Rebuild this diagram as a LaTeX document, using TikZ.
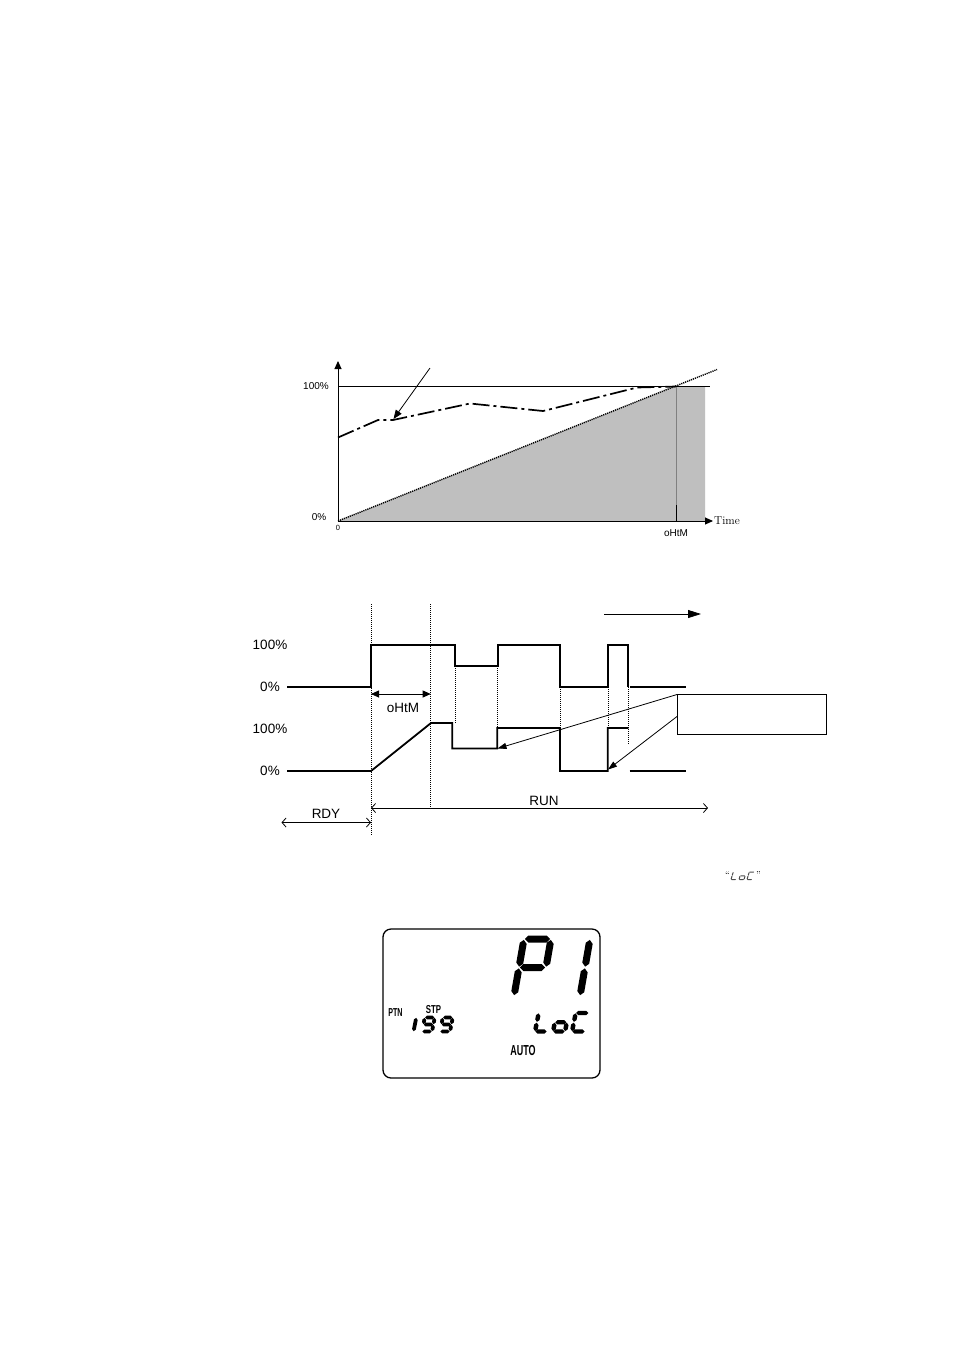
\documentclass[tikz,border=0pt]{standalone}
\usepackage{fontspec}
\setmainfont{Liberation Sans}
\newfontfamily\lmserif{Latin Modern Roman}
\usetikzlibrary{arrows.meta}
\def\sgap{1}
\newcommand\SgSeg[5]{%
  \pgfmathsetmacro\sA{atan2((#4)-(#2),(#3)-(#1))}%
  \pgfmathsetmacro\sL{veclen((#3)-(#1),(#4)-(#2))}%
  \pgfmathsetmacro\sB{\sgap}%
  \pgfmathsetmacro\sC{\sgap+#5}%
  \pgfmathsetmacro\sD{\sL-\sgap-#5}%
  \pgfmathsetmacro\sE{\sL-\sgap}%
  \fill[shift={(#1,#2)},rotate=-\sA] (\sB,0) -- (\sC,#5) -- (\sD,#5) -- (\sE,0) -- (\sD,-#5) -- (\sC,-#5) -- cycle;}
% digit set: x0 y0 W H slant halfthick
\newcommand\SgSet[6]{%
  \pgfmathsetmacro\dBLx{#1}\pgfmathsetmacro\dBLy{#2}%
  \pgfmathsetmacro\dBRx{#1+#3}%
  \pgfmathsetmacro\dMLx{#1+#5*#4/2}\pgfmathsetmacro\dMy{#2-#4/2}%
  \pgfmathsetmacro\dMRx{#1+#3+#5*#4/2}%
  \pgfmathsetmacro\dTLx{#1+#5*#4}\pgfmathsetmacro\dTy{#2-#4}%
  \pgfmathsetmacro\dTRx{#1+#3+#5*#4}%
  \def\dT{#6}}
\newcommand\SgA{\SgSeg{\dTLx}{\dTy}{\dTRx}{\dTy}{\dT}}
\newcommand\SgB{\SgSeg{\dTRx}{\dTy}{\dMRx}{\dMy}{\dT}}
\newcommand\SgC{\SgSeg{\dMRx}{\dMy}{\dBRx}{\dBLy}{\dT}}
\newcommand\SgD{\SgSeg{\dBLx}{\dBLy}{\dBRx}{\dBLy}{\dT}}
\newcommand\SgE{\SgSeg{\dMLx}{\dMy}{\dBLx}{\dBLy}{\dT}}
\newcommand\SgF{\SgSeg{\dTLx}{\dTy}{\dMLx}{\dMy}{\dT}}
\newcommand\SgG{\SgSeg{\dMLx}{\dMy}{\dMRx}{\dMy}{\dT}}
\newcommand\SgBC{\SgSeg{\dTRx}{\dTy}{\dBRx}{\dBLy}{\dT}}
\tikzset{
  sig/.style={line width=1.8pt},
  dotv/.style={line width=0.8pt,dash pattern=on 1pt off 1pt},
  thinl/.style={line width=0.8pt},
  lab/.style={inner sep=0pt,font=\fontsize{13.5}{14}\selectfont},
  smlab/.style={inner sep=0pt,font=\fontsize{10}{10}\selectfont},
  lcdlab/.style={inner sep=0pt,font=\fontsize{11.5}{12}\selectfont},
  bigtip/.style={-{Triangle[length=8pt,width=7pt]}},
}
\begin{document}
\begin{tikzpicture}[x=1pt,y=-1pt]
\useasboundingbox (0,0) rectangle (954,1350);
\fill[white] (0,0) rectangle (954,1350);

% ---------- top chart ----------
\fill[black!25] (338,521) -- (676,386) -- (705,386) -- (705,521) -- cycle;
\draw[black!50,line width=1pt] (676,386) -- (676,505);
\draw[line width=1pt] (676,505) -- (676,521);
\draw[line width=0.8pt] (338,386) -- (710,386);
\draw[line width=1.4pt,dash pattern=on 1.2pt off 0.9pt] (338,521) -- (717,369.5);
\draw[line width=1.7pt,dash pattern=on 17pt off 4pt on 3pt off 4pt]
  (338,437.5) -- (378,420) -- (393,420) -- (470,403.5) -- (543,411) -- (637,387.5) -- (676,386.5);
\coordinate (ptA) at (430,368);
\coordinate (ptB) at (393.5,419);
\draw[line width=0.8pt,-{Triangle[length=9pt,width=7pt]}] (ptA) -- (ptB);
\coordinate (org) at (338,521);
\coordinate (ytip) at (338,361);
\coordinate (xtip) at (713,521);
\draw[line width=0.9pt,bigtip] (org) -- (ytip);
\draw[line width=0.9pt,bigtip] (org) -- (xtip);
\node[smlab] (l100a) at (316,386) {100\%};
\node[smlab] (l0a) at (319,517) {0\%};
\node[inner sep=0pt,font=\fontsize{7.5}{8}\selectfont] (l0) at (338,528) {0};
\node[smlab] (lohtma) at (676,533) {oHtM};
\node[inner sep=0pt,anchor=west,font=\lmserif\fontsize{11.5}{12}\selectfont] (ltime) at (714,521) {Time};

% ---------- timing chart ----------
\draw[dotv] (371,604) -- (371,836);
\draw[dotv] (430.7,604) -- (430.7,808);
\draw[dotv] (455,666) -- (455,723);
\draw[dotv] (497.7,666) -- (497.7,728);
\draw[dotv] (560,687) -- (560,728);
\draw[dotv] (608,687) -- (608,728);
\draw[dotv] (628.5,687) -- (628.5,745);
% upper signal
\draw[sig] (287,687) -- (371,687) -- (371,645) -- (455,645) -- (455,665.7) -- (497.7,665.7) -- (497.7,645) -- (560,645) -- (560,687) -- (607.7,687) -- (607.7,645) -- (628.3,645) -- (628.3,687);
\draw[sig] (630,687) -- (686,687);
% lower signal
\draw[sig] (287,771) -- (371,771) -- (431,723) -- (452.3,723) -- (452.3,748.5) -- (497.3,748.5) -- (497.3,728) -- (560,728) -- (560,771) -- (607.7,771) -- (607.7,728) -- (628.3,728);
\draw[sig] (629.5,771) -- (686,771);
\node[lab] (l100u) at (270,645) {100\%};
\node[lab] (l0u) at (270,687) {0\%};
\node[lab] (l100l) at (270,729) {100\%};
\node[lab] (l0l) at (270,771) {0\%};
% oHtM arrow
\coordinate (oh1) at (371,694);
\coordinate (oh2) at (430.7,694);
\draw[thinl,{Triangle[length=8pt,width=7pt]}-{Triangle[length=8pt,width=7pt]}] (oh1) -- (oh2);
\node[lab] (lohtm) at (403,708) {oHtM};
% time arrow
\coordinate (ta1) at (604,614);
\coordinate (ta2) at (701,614);
\draw[thinl,-{Triangle[length=13pt,width=8pt]}] (ta1) -- (ta2);
% callout box
\node[draw,thinl,minimum width=149pt,minimum height=40pt,inner sep=0pt] (cbox) at (751.5,714) {};
\coordinate (cb1) at (677,694.5);
\coordinate (cb2) at (677,716.5);
\coordinate (tip1) at (497.5,748.5);
\coordinate (tip2) at (608,769.5);
\draw[thinl,-{Triangle[length=9pt,width=6pt]}] (cb1) -- (tip1);
\draw[thinl,-{Triangle[length=9pt,width=6pt]}] (cb2) -- (tip2);
% RDY / RUN
\coordinate (rd1) at (281.5,822.5);
\coordinate (rd2) at (371,822.5);
\draw[thinl,{Straight Barb[length=4pt,width=9pt]}-{Straight Barb[length=4pt,width=9pt]}] (rd1) -- (rd2);
\node[lab] (lrdy) at (326,814) {RDY};
\coordinate (ru1) at (371,808);
\coordinate (ru2) at (708,808);
\draw[thinl,{Straight Barb[length=4pt,width=9pt]}-{Straight Barb[length=4pt,width=9pt]}] (ru1) -- (ru2);
\node[lab] (lrun) at (544,800.5) {RUN};

% ---------- small "LoC" ----------
\node[inner sep=0pt,font=\lmserif\fontsize{10}{10}\selectfont] (q1) at (727.5,875.5) {“};
\node[inner sep=0pt,font=\lmserif\fontsize{10}{10}\selectfont] (q2) at (758.5,875.5) {”};
\begin{scope}[black!70]
\def\sgap{0.15}
\SgSet{731}{879.5}{5}{7.5}{0.3}{0.5}\SgD\SgE\SgF
\SgSet{739}{879.5}{5}{7.5}{0.3}{0.5}\SgC\SgD\SgE\SgG
\SgSet{747}{879.5}{5}{7.5}{0.3}{0.5}\SgA\SgD\SgE\SgF
\end{scope}

% ---------- LCD ----------
\node[draw,line width=1.3pt,rounded corners=8pt,minimum width=217pt,minimum height=149pt,inner sep=0pt] (lcd) at (491.5,1003.5) {};
\begin{scope}
\def\sgap{0.9}
\SgSet{514}{996}{27}{57}{0.175}{3.5}\SgA\SgB\SgE\SgF\SgG
\SgSet{553}{996}{27}{57}{0.175}{3.5}\SgB\SgC
\def\sgap{0.35}
\SgSet{403.5}{1031.5}{10}{14}{0.2}{1.9}\SgBC
\SgSet{422}{1031.5}{10}{14}{0.2}{1.9}\SgA\SgB\SgC\SgD\SgF\SgG
\SgSet{440}{1031.5}{10}{14}{0.2}{1.9}\SgA\SgB\SgC\SgD\SgF\SgG
\def\sgap{0.4}
\SgSet{535}{1031.5}{12}{18.5}{0.2}{2.2}\SgD\SgE\SgF
\SgSet{553}{1031.5}{12}{18.5}{0.2}{2.2}\SgC\SgD\SgE\SgG
\SgSet{572}{1031.5}{13}{18.5}{0.2}{2.2}\SgA\SgD\SgE\SgF
\end{scope}
\node[lcdlab] (lptn) at (395.5,1012.5) {\scalebox{0.62}[1]{\textbf{PTN}}};
\node[lcdlab] (lstp) at (433.5,1009.5) {\scalebox{0.68}[1]{\textbf{STP}}};
\node[inner sep=0pt,font=\fontsize{14.5}{15}\selectfont] (lauto) at (523,1050) {\scalebox{0.62}[1]{\textbf{AUTO}}};
\end{tikzpicture}
\end{document}
